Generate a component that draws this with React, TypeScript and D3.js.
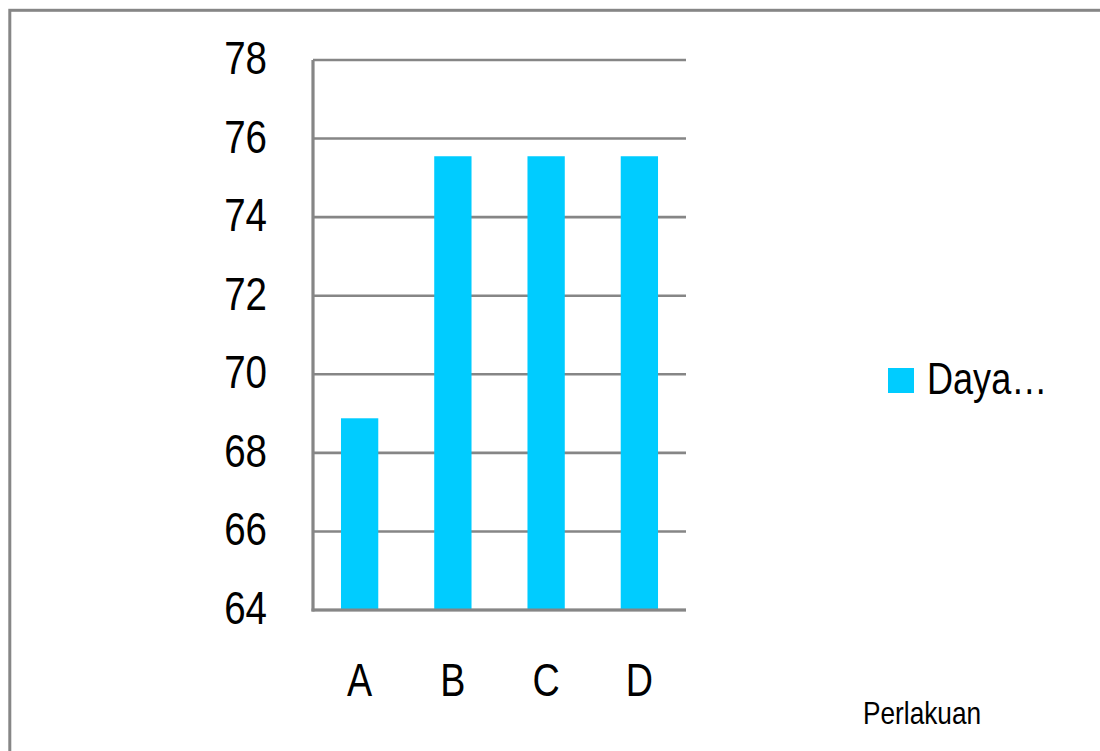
import React from "react";
import * as d3 from "d3";

// Germination ("Daya ...") per treatment
const categories = ["A", "B", "C", "D"];
const values = [68.88, 75.55, 75.55, 75.55];
const yTicks = [64, 66, 68, 70, 72, 74, 76, 78];
const seriesName = "Daya…";
const axisTitle = "Perlakuan";

const W = 1100;
const H = 751;
const FONT = "'Liberation Sans', Arial, sans-serif";
const NARROW = 0.82; // horizontal squeeze to get a narrow face
const GRID = "#868686";
const BAR = "#00CCFF";

type LabelProps = {
  x: number;
  y: number;
  size: number;
  anchor?: "start" | "middle" | "end";
  children: React.ReactNode;
};

function Label({ x, y, size, anchor = "start", children }: LabelProps) {
  return (
    <text
      transform={`translate(${x},${y}) scale(${NARROW},1)`}
      textAnchor={anchor}
      fontSize={size}
      fill="#000"
    >
      {children}
    </text>
  );
}

export default function App() {
  const left = 313;
  const right = 686;
  const top = 60;
  const bottom = 610;

  const x = d3.scaleBand<string>().domain(categories).range([left, right]).paddingInner(0.6).paddingOuter(0.3);
  const y = d3.scaleLinear().domain([64, 78]).range([bottom, top]);

  return (
    <svg
      width={W}
      height={H}
      style={{ position: "absolute", left: 0, top: 0, background: "#fff" }}
      fontFamily={FONT}
    >
      {/* outer frame */}
      <rect x={9.8} y={10.3} width={W + 20} height={H + 20} fill="#fff" stroke={GRID} strokeWidth={3} />

      {/* gridlines */}
      {yTicks.map((t) => (
        <line key={t} x1={left} x2={right} y1={y(t)} y2={y(t)} stroke={GRID} strokeWidth={2.6} />
      ))}

      {/* bars */}
      {categories.map((c, i) => (
        <rect
          key={c}
          x={x(c)}
          width={x.bandwidth()}
          y={y(values[i])}
          height={y(64) - y(values[i])}
          fill={BAR}
        />
      ))}

      {/* axes */}
      <line x1={left} x2={left} y1={top} y2={bottom + 1.5} stroke={GRID} strokeWidth={3.2} />
      <line x1={left - 1.5} x2={right} y1={bottom} y2={bottom} stroke={GRID} strokeWidth={3.2} />

      {/* y tick labels */}
      {yTicks.map((t) => (
        <Label key={t} x={267} y={y(t) + 14} size={47} anchor="end">
          {t}
        </Label>
      ))}

      {/* category labels */}
      {categories.map((c) => (
        <Label key={c} x={(x(c) ?? 0) + x.bandwidth() / 2} y={696} size={46} anchor="middle">
          {c}
        </Label>
      ))}

      {/* legend */}
      <rect x={888} y={368} width={26} height={25} fill={BAR} />
      <Label x={927} y={394} size={44}>
        {seriesName}
      </Label>

      {/* axis title */}
      <Label x={863} y={724} size={32}>
        {axisTitle}
      </Label>
    </svg>
  );
}
